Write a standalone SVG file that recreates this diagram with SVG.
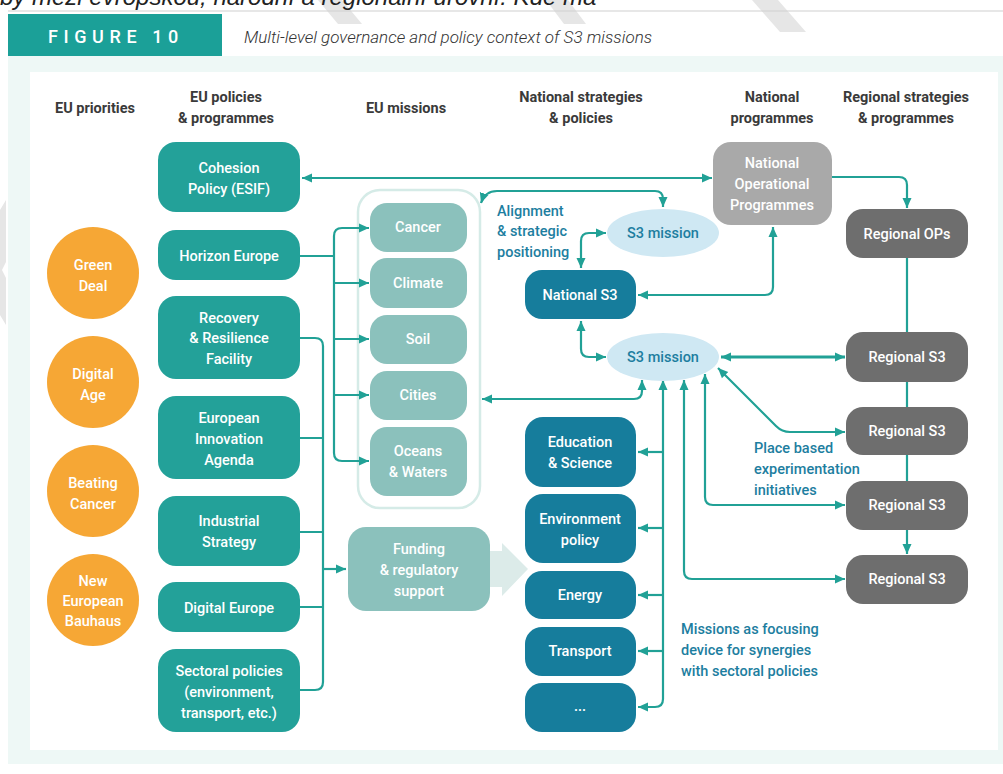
<svg xmlns="http://www.w3.org/2000/svg" width="1003" height="774" viewBox="0 0 1003 774">
<style>
.t{font-family:Roboto,"Noto Sans","Liberation Sans",sans-serif;font-weight:500;font-size:14.5px;fill:#fff;text-anchor:middle}
.h{font-family:Roboto,"Noto Sans","Liberation Sans",sans-serif;font-weight:700;font-size:14.5px;fill:#3a3a3a;text-anchor:middle}
.n{font-family:Roboto,"Noto Sans","Liberation Sans",sans-serif;font-weight:500;font-size:14.5px;fill:#1d7ea0}
.pol{fill:#23a199}
.mis{fill:#8bc1bc}
.nat{fill:#167d9c}
.reg{fill:#6e6e6e}
.ell{fill:#cfe8f3}
.c{fill:none;stroke:#21a196;stroke-width:2.2}
.a2{marker-end:url(#ah);marker-start:url(#ah)}
.a1{marker-end:url(#ah)}
</style>
<defs>
<marker id="ah" markerUnits="userSpaceOnUse" markerWidth="10" markerHeight="10" viewBox="0 0 10 10" refX="10" refY="5" orient="auto-start-reverse">
<path d="M0,0.5 L10,5 L0,9.5 z" fill="#21a196"/>
</marker>
</defs>
<rect x="0" y="0" width="1003" height="774" fill="#fff"/>
<!-- watermark fragments -->
<g fill="#e6e6e6">
<polygon points="318,0 342,0 362,24 338,24"/>
<polygon points="546,0 568,0 586,24 564,24"/>
<polygon points="752,0 778,0 806,32 780,32"/>
<polygon points="0,210 6,200 6,262 2,270 6,278 6,325 0,315"/>
</g>
<text x="0" y="5" font-family="Liberation Sans,Arial,sans-serif" font-style="italic" font-size="24" fill="#222">by mezi evropskou, národní a regionální úrovní. Kde má</text>
<rect x="8" y="10.5" width="995" height="1" fill="#cfcfcf"/>
<!-- header -->
<rect x="8" y="14" width="214" height="42" fill="#1ba098"/>
<text x="116" y="43" font-family="Roboto,'Noto Sans',sans-serif" font-weight="500" font-size="18" letter-spacing="5.6" fill="#fff" text-anchor="middle">FIGURE 10</text>
<text x="244" y="43" font-family="Roboto,'Noto Sans',sans-serif" font-style="italic" font-weight="300" font-size="17" fill="#333">Multi-level governance and policy context of S3 missions</text>
<rect x="8" y="56" width="995" height="708" fill="#eef8f6"/>
<rect x="30" y="72" width="968" height="678" fill="#fff"/>
<!-- column headers -->
<g id="headers">
<text class="h" x="95" y="113">EU priorities</text>
<text class="h" x="226" y="102">EU policies</text>
<text class="h" x="226" y="123">&amp; programmes</text>
<text class="h" x="406" y="113">EU missions</text>
<text class="h" x="581" y="102">National strategies</text>
<text class="h" x="581" y="123">&amp; policies</text>
<text class="h" x="772" y="102">National</text>
<text class="h" x="772" y="123">programmes</text>
<text class="h" x="906" y="102">Regional strategies</text>
<text class="h" x="906" y="123">&amp; programmes</text>
</g>
<!-- priorities -->
<g id="green-deal"><circle cx="93" cy="273" r="46" fill="#f6a735"/><text class="t" x="93" y="270">Green</text><text class="t" x="93" y="291">Deal</text></g>
<g id="digital-age"><circle cx="93" cy="382" r="46" fill="#f6a735"/><text class="t" x="93" y="379">Digital</text><text class="t" x="93" y="400">Age</text></g>
<g id="beating-cancer"><circle cx="93" cy="491" r="46" fill="#f6a735"/><text class="t" x="93" y="488">Beating</text><text class="t" x="93" y="509">Cancer</text></g>
<g id="bauhaus"><circle cx="93" cy="600" r="46" fill="#f6a735"/><text class="t" x="93" y="586">New</text><text class="t" x="93" y="606">European</text><text class="t" x="93" y="626">Bauhaus</text></g>
<!-- missions container -->
<g id="missions-container"><rect x="358" y="190" width="122" height="318" rx="22" fill="#fff" stroke="#d5ebe7" stroke-width="2.5"/></g>
<!-- connectors -->
<g id="connectors">
<path class="c a2" d="M302,178 H712"/>
<path class="c a1" d="M832,177 H899 Q907,177 907,185 V208"/>
<path class="c a2" d="M481,203 Q485,191 497,191 H655 Q663,191 663,199 V207"/>
<path class="c a2" d="M581,268 V241 Q581,233 589,233 H606"/>
<path class="c a2" d="M581,321 V349 Q581,357 589,357 H606"/>
<path class="c a2" d="M638,295 H765 Q773,295 773,287 V227"/>
<path class="c a2" d="M721,357 H845" style="stroke-width:2.8"/>
<path class="c a2" d="M718,368 L776,426 Q782,432 790,432 H845"/>
<path class="c a2" d="M705,374 V497 Q705,505 713,505 H845"/>
<path class="c a2" d="M684,380 V571 Q684,579 692,579 H845"/>
<path class="c a2" d="M663,380 V699 Q663,707 655,707 H638"/>
<path class="c a1" d="M663,452 H638"/>
<path class="c a1" d="M663,528 H638"/>
<path class="c a1" d="M663,595 H638"/>
<path class="c a1" d="M663,651 H638"/>
<path class="c a2" d="M642,380 V391 Q642,399 634,399 H482"/>
<path class="c" d="M300,256 H334"/>
<path class="c a1" d="M334,256 V236 Q334,228 342,228 H369"/>
<path class="c a1" d="M334,256 V453 Q334,461 342,461 H369"/>
<path class="c a1" d="M334,283 H369"/>
<path class="c a1" d="M334,339 H369"/>
<path class="c a1" d="M334,395 H369"/>
<path class="c" d="M300,338 H315 Q323,338 323,346 V682 Q323,690 315,690 H300"/>
<path class="c" d="M300,438 H323 M300,532 H323 M300,607 H323"/>
<path class="c a1" d="M323,569 H346"/>
<path class="c" d="M907,258 V332 M907,382 V407 M907,455 V481"/>
<path class="c a1" d="M907,530 V554"/>
</g>
<!-- EU policies -->
<g id="cohesion"><rect class="pol" x="158" y="142" width="142" height="70" rx="18"/><text class="t" x="229" y="173">Cohesion</text><text class="t" x="229" y="194">Policy (ESIF)</text></g>
<g id="horizon"><rect class="pol" x="158" y="230" width="142" height="50" rx="18"/><text class="t" x="229" y="261">Horizon Europe</text></g>
<g id="rrf"><rect class="pol" x="158" y="296" width="142" height="83" rx="18"/><text class="t" x="229" y="323">Recovery</text><text class="t" x="229" y="343">&amp; Resilience</text><text class="t" x="229" y="364">Facility</text></g>
<g id="eia"><rect class="pol" x="158" y="396" width="142" height="83" rx="18"/><text class="t" x="229" y="423">European</text><text class="t" x="229" y="444">Innovation</text><text class="t" x="229" y="465">Agenda</text></g>
<g id="industrial"><rect class="pol" x="158" y="496" width="142" height="70" rx="18"/><text class="t" x="229" y="526">Industrial</text><text class="t" x="229" y="547">Strategy</text></g>
<g id="digital-europe"><rect class="pol" x="158" y="582" width="142" height="50" rx="18"/><text class="t" x="229" y="613">Digital Europe</text></g>
<g id="sectoral"><rect class="pol" x="158" y="649" width="142" height="83" rx="18"/><text class="t" x="229" y="676">Sectoral policies</text><text class="t" x="229" y="697">(environment,</text><text class="t" x="229" y="718">transport, etc.)</text></g>
<!-- missions -->
<g id="cancer"><rect class="mis" x="370" y="203" width="97" height="49" rx="17"/><text class="t" x="418" y="232">Cancer</text></g>
<g id="climate"><rect class="mis" x="370" y="258" width="97" height="50" rx="17"/><text class="t" x="418" y="288">Climate</text></g>
<g id="soil"><rect class="mis" x="370" y="315" width="97" height="49" rx="17"/><text class="t" x="418" y="344">Soil</text></g>
<g id="cities"><rect class="mis" x="370" y="371" width="97" height="49" rx="17"/><text class="t" x="418" y="400">Cities</text></g>
<g id="oceans"><rect class="mis" x="370" y="427" width="97" height="69" rx="17"/><text class="t" x="418" y="456">Oceans</text><text class="t" x="418" y="477">&amp; Waters</text></g>
<!-- funding -->
<g id="funding"><polygon points="488,551 502,551 502,543 528,569 502,596 502,587 488,587" fill="#dcebe9"/><rect class="mis" x="348" y="527" width="142" height="84" rx="18"/><text class="t" x="419" y="554">Funding</text><text class="t" x="419" y="575">&amp; regulatory</text><text class="t" x="419" y="596">support</text></g>
<!-- national -->
<g id="national-s3"><rect class="nat" x="525" y="270" width="111" height="49" rx="17"/><text class="t" x="580" y="300">National S3</text></g>
<g id="s3-mission-top"><ellipse class="ell" cx="663" cy="233" rx="56" ry="24"/><text class="n" x="663" y="238" text-anchor="middle">S3 mission</text></g>
<g id="s3-mission-bottom"><ellipse class="ell" cx="663" cy="357" rx="56" ry="24"/><text class="n" x="663" y="362" text-anchor="middle">S3 mission</text></g>
<g id="education"><rect class="nat" x="525" y="417" width="111" height="70" rx="18"/><text class="t" x="580" y="447">Education</text><text class="t" x="580" y="468">&amp; Science</text></g>
<g id="environment"><rect class="nat" x="525" y="494" width="111" height="69" rx="18"/><text class="t" x="580" y="524">Environment</text><text class="t" x="580" y="545">policy</text></g>
<g id="energy"><rect class="nat" x="525" y="571" width="111" height="48" rx="17"/><text class="t" x="580" y="600">Energy</text></g>
<g id="transport"><rect class="nat" x="525" y="627" width="111" height="49" rx="17"/><text class="t" x="580" y="656">Transport</text></g>
<g id="etc"><rect class="nat" x="525" y="683" width="111" height="49" rx="17"/><text class="t" x="580" y="711">...</text></g>
<!-- national programmes -->
<g id="nop"><rect x="713" y="142" width="119" height="83" rx="18" fill="#a9a9a9"/><text class="t" x="772" y="168">National</text><text class="t" x="772" y="189">Operational</text><text class="t" x="772" y="210">Programmes</text></g>
<!-- regional -->
<g id="regional-ops"><rect class="reg" x="846" y="209" width="122" height="49" rx="17"/><text class="t" x="907" y="239">Regional OPs</text></g>
<g id="regional-s3-1"><rect class="reg" x="846" y="332" width="122" height="50" rx="17"/><text class="t" x="907" y="362">Regional S3</text></g>
<g id="regional-s3-2"><rect class="reg" x="846" y="407" width="122" height="48" rx="17"/><text class="t" x="907" y="436">Regional S3</text></g>
<g id="regional-s3-3"><rect class="reg" x="846" y="481" width="122" height="49" rx="17"/><text class="t" x="907" y="510">Regional S3</text></g>
<g id="regional-s3-4"><rect class="reg" x="846" y="555" width="122" height="49" rx="17"/><text class="t" x="907" y="584">Regional S3</text></g>
<!-- annotations -->
<g id="labels">
<text class="n" x="497" y="216">Alignment</text>
<text class="n" x="497" y="236">&amp; strategic</text>
<text class="n" x="497" y="257">positioning</text>
<text class="n" x="754" y="453">Place based</text>
<text class="n" x="754" y="474">experimentation</text>
<text class="n" x="754" y="495">initiatives</text>
<text class="n" x="681" y="634">Missions as focusing</text>
<text class="n" x="681" y="655">device for synergies</text>
<text class="n" x="681" y="676">with sectoral policies</text>
</g>
</svg>
